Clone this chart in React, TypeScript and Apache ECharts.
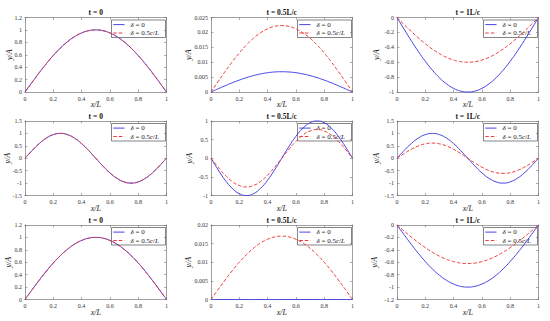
import React, { useEffect, useRef } from "react";
import * as echarts from "echarts";

const xs = [0, 0.05, 0.1, 0.15, 0.2, 0.25, 0.3, 0.35, 0.4, 0.45, 0.5, 0.55, 0.6, 0.65, 0.7, 0.75, 0.8, 0.85, 0.9, 0.95, 1];

const titles = ["t = 0", "t = 0.5L/c", "t = 1L/c", "t = 0", "t = 0.5L/c", "t = 1L/c", "t = 0", "t = 0.5L/c", "t = 1L/c"];
const seriesNames = ["δ = 0", "δ = 0.5c/L"];
const legendRich = ["{i|δ} = 0", "{i|δ} = 0.5{i|c}/{i|L}"];

const halfSine = [0, 0.156, 0.309, 0.454, 0.588, 0.707, 0.809, 0.891, 0.951, 0.988, 1, 0.988, 0.951, 0.891, 0.809, 0.707, 0.588, 0.454, 0.309, 0.156, 0];
const p2Blue = [0, 0.00106, 0.0021, 0.00309, 0.004, 0.00481, 0.0055, 0.00606, 0.00647, 0.00672, 0.0068, 0.00672, 0.00647, 0.00606, 0.0055, 0.00481, 0.004, 0.00309, 0.0021, 0.00106, 0];
const p2Red = [0, 0.00348, 0.00689, 0.01012, 0.0131, 0.01576, 0.01804, 0.01986, 0.0212, 0.02202, 0.0223, 0.02202, 0.0212, 0.01986, 0.01804, 0.01576, 0.0131, 0.01012, 0.00689, 0.00348, 0];
const negHalfSine = [0, -0.156, -0.309, -0.454, -0.588, -0.707, -0.809, -0.891, -0.951, -0.988, -1, -0.988, -0.951, -0.891, -0.809, -0.707, -0.588, -0.454, -0.309, -0.156, 0];
const p3Red = [0, -0.094, -0.185, -0.272, -0.353, -0.424, -0.485, -0.535, -0.571, -0.593, -0.6, -0.593, -0.571, -0.535, -0.485, -0.424, -0.353, -0.272, -0.185, -0.094, 0];
const fullSine = [0, 0.309, 0.588, 0.809, 0.951, 1, 0.951, 0.809, 0.588, 0.309, 0, -0.309, -0.588, -0.809, -0.951, -1, -0.951, -0.809, -0.588, -0.309, 0];
const negFullSine = [0, -0.309, -0.588, -0.809, -0.951, -1, -0.951, -0.809, -0.588, -0.309, 0, 0.309, 0.588, 0.809, 0.951, 1, 0.951, 0.809, 0.588, 0.309, 0];
const p5Red = [0, -0.238, -0.453, -0.623, -0.732, -0.77, -0.732, -0.623, -0.453, -0.238, 0, 0.238, 0.453, 0.623, 0.732, 0.77, 0.732, 0.623, 0.453, 0.238, 0];
const p6Red = [0, 0.188, 0.359, 0.493, 0.58, 0.61, 0.58, 0.493, 0.359, 0.188, 0, -0.188, -0.359, -0.493, -0.58, -0.61, -0.58, -0.493, -0.359, -0.188, 0];
const p8Blue = [0, 0, 0, 0, 0, 0, 0, 0, 0, 0, 0, 0, 0, 0, 0, 0, 0, 0, 0, 0, 0];
const p8Red = [0, 0.00266, 0.00525, 0.00772, 0.01, 0.01202, 0.01375, 0.01515, 0.01617, 0.0168, 0.017, 0.0168, 0.01617, 0.01515, 0.01375, 0.01202, 0.01, 0.00772, 0.00525, 0.00266, 0];
const p9Red = [0, -0.097, -0.192, -0.281, -0.364, -0.438, -0.502, -0.552, -0.59, -0.613, -0.62, -0.613, -0.59, -0.552, -0.502, -0.438, -0.364, -0.281, -0.192, -0.097, 0];

const blueSeries = [halfSine, p2Blue, negHalfSine, fullSine, negFullSine, fullSine, halfSine, p8Blue, negHalfSine];
const redSeries = [halfSine, p2Red, p3Red, fullSine, p5Red, p6Red, halfSine, p8Red, p9Red];

const yMins = [0, 0, -1, -1.5, -1, -1.5, 0, 0, -1.2];
const yMaxs = [1.2, 0.025, 0, 1.5, 1, 1.5, 1.2, 0.02, 0];
const yIntervals = [0.2, 0.005, 0.2, 0.5, 0.5, 0.5, 0.2, 0.005, 0.2];

const colLefts = [25, 211, 397];
const rowTops = [17.5, 121, 225];
const gridW = 141.5;
const gridH = 74.5;
const yNameGaps = [11.5, 18.5, 17, 13.5, 18, 17, 12.5, 18.5, 18.5];

const FONT = "'Liberation Serif', 'DejaVu Serif', serif";
const AXIS_COLOR = "#777";
const BLUE = "#4646e8";
const RED = "#ee3a3a";
const RED_DASH = [3.5, 2];

function fmt(v: number) {
  return String(Math.round(v * 100000) / 100000);
}

export default function App() {
  const ref = useRef<HTMLDivElement>(null);
  useEffect(() => {
    if (!ref.current) return;
    const chart = echarts.init(ref.current, undefined, { renderer: "svg" });
    const grid: any[] = [];
    const xAxis: any[] = [];
    const yAxis: any[] = [];
    const series: any[] = [];
    const graphic: any[] = [];
    const xAx2: any[] = [];
    const yAx2: any[] = [];
    for (let i = 0; i < 9; i++) {
      const r = Math.floor(i / 3);
      const c = i % 3;
      const left = colLefts[c];
      const top = rowTops[r];
      grid.push({ left, top, width: gridW, height: gridH, show: false });
      const tickCommon = { show: true, inside: true, length: 2.5, lineStyle: { color: AXIS_COLOR, width: 0.6 } };
      xAxis.push({
        gridIndex: i, type: "value", min: 0, max: 1, interval: 0.2,
        axisLine: { show: true, onZero: false, lineStyle: { color: AXIS_COLOR, width: 0.7 } },
        axisTick: tickCommon, splitLine: { show: false },
        axisLabel: { fontSize: 6, margin: 3.5, color: "#333", fontFamily: FONT, formatter: fmt },
        name: "x/L", nameLocation: "middle", nameGap: 8.5, nameMoveOverlap: false,
        nameTextStyle: { fontStyle: "italic", fontSize: 8, fontFamily: FONT, color: "#222" },
      });
      xAx2.push({
        gridIndex: i, type: "value", min: 0, max: 1, interval: 0.2, position: "top",
        axisLine: { show: true, onZero: false, lineStyle: { color: AXIS_COLOR, width: 0.7 } },
        axisTick: tickCommon, splitLine: { show: false }, axisLabel: { show: false },
      });
      yAxis.push({
        gridIndex: i, type: "value", min: yMins[i], max: yMaxs[i], interval: yIntervals[i],
        axisLine: { show: true, onZero: false, lineStyle: { color: AXIS_COLOR, width: 0.7 } },
        axisTick: tickCommon, splitLine: { show: false },
        axisLabel: { fontSize: 6, margin: 3, color: "#333", fontFamily: FONT, formatter: fmt },
        name: "y/A", nameLocation: "middle", nameGap: yNameGaps[i], nameMoveOverlap: false,
        nameTextStyle: { fontStyle: "italic", fontSize: 8, fontFamily: FONT, color: "#222" },
      });
      yAx2.push({
        gridIndex: i, type: "value", min: yMins[i], max: yMaxs[i], interval: yIntervals[i], position: "right",
        axisLine: { show: true, onZero: false, lineStyle: { color: AXIS_COLOR, width: 0.7 } },
        axisTick: tickCommon, splitLine: { show: false }, axisLabel: { show: false },
      });
      series.push({
        name: seriesNames[0], type: "line", xAxisIndex: i, yAxisIndex: i,
        data: xs.map((x, k) => [x, blueSeries[i][k]]),
        symbol: "none", smooth: true, clip: false,
        lineStyle: { color: BLUE, width: 1 }, itemStyle: { color: BLUE }, z: 3,
      });
      series.push({
        name: seriesNames[1], type: "line", xAxisIndex: i, yAxisIndex: i,
        data: xs.map((x, k) => [x, redSeries[i][k]]),
        symbol: "none", smooth: true, clip: false,
        lineStyle: { color: RED, width: 1, type: RED_DASH }, itemStyle: { color: RED }, z: 4,
      });
      // legend box (top-right inside the plot)
      const bw = 54;
      const bh = 17.5;
      const bx = left + gridW - 1 - bw;
      const by = top + 2.5;
      const textStyleBase = {
        fontSize: 7, fontFamily: FONT, fill: "#222",
        rich: { i: { fontStyle: "italic", fontSize: 7, fontFamily: FONT, fill: "#222" } },
      };
      graphic.push({
        type: "group", z: 100,
        children: [
          { type: "rect", shape: { x: bx, y: by, width: bw, height: bh }, style: { fill: "#fff", stroke: "#333", lineWidth: 0.6 } },
          { type: "line", shape: { x1: bx + 1.8, y1: by + 4.6, x2: bx + 13, y2: by + 4.6 }, style: { stroke: BLUE, lineWidth: 1 } },
          { type: "line", shape: { x1: bx + 1.8, y1: by + 13, x2: bx + 13, y2: by + 13 }, style: { stroke: RED, lineWidth: 1, lineDash: RED_DASH } },
          { type: "text", x: bx + 19, y: by + 4.8, style: { ...textStyleBase, text: legendRich[0], textVerticalAlign: "middle" } },
          { type: "text", x: bx + 19, y: by + 13.2, style: { ...textStyleBase, text: legendRich[1], textVerticalAlign: "middle" } },
        ],
      });
      graphic.push({
        type: "text", x: left + gridW / 2, y: top - 5,
        style: {
          text: titles[i], textAlign: "center", textVerticalAlign: "middle",
          fontSize: 7.5, fontWeight: "bold", fontFamily: FONT, fill: "#111",
        },
      });
    }
    chart.setOption({
      animation: false,
      backgroundColor: "#fff",
      grid,
      xAxis: [...xAxis, ...xAx2],
      yAxis: [...yAxis, ...yAx2],
      series,
      graphic,
    });
    return () => chart.dispose();
  }, []);
  return <div ref={ref} style={{ position: "fixed", left: 0, top: 0, width: 550, height: 321 }} />;
}
